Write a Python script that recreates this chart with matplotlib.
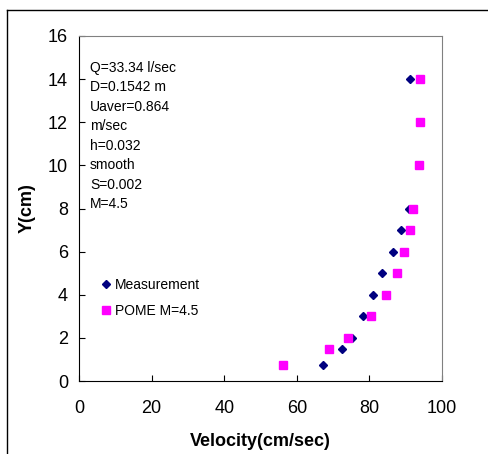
import matplotlib.pyplot as plt
from matplotlib.lines import Line2D

plt.rcParams['font.family'] = ['Liberation Sans', 'DejaVu Sans']

# measured velocity profile
meas_y = [14, 8, 7, 6, 5, 4, 3, 2, 1.5, 0.75]
meas_v = [91.2, 91.0, 88.6, 86.4, 83.6, 81.1, 78.3, 75.1, 72.5, 67.1]

# POME prediction, M=4.5
pome_y = [14, 12, 10, 8, 7, 6, 5, 4, 3, 2, 1.5, 0.75]
pome_v = [93.9, 93.9, 93.6, 92.1, 91.2, 89.6, 87.5, 84.6, 80.4, 74.0, 69.0, 56.1]

info = ['Q=33.34 l/sec', 'D=0.1542 m', 'Uaver=0.864', 'm/sec',
        'h=0.032', 'smooth', 'S=0.002', 'M=4.5']

fig = plt.figure(figsize=(4.88, 4.54), dpi=100)
ax = fig.add_axes([79/488, 1-381/454, (442-79)/488, (381-36)/454])

ax.plot(meas_v, meas_y, 'D', color='#000080', ms=3.8, ls='none', label='Measurement')
ax.plot(pome_v, pome_y, 's', color='#ff00ff', ms=5.5, ls='none', label='POME M=4.5')

ax.set_xlim(0, 100)
ax.set_ylim(0, 16)
ax.set_xticks(range(0, 101, 20))
ax.set_yticks(range(0, 17, 2))
ax.tick_params(direction='in', labelsize=13, length=4, pad=8)
ax.tick_params(axis='x', pad=14)
for s in ['top', 'right']:
    ax.spines[s].set_color('#808080')

ax.set_xlabel('Velocity(cm/sec)', fontsize=13, fontweight='bold', labelpad=11)
ax.set_ylabel('Y(cm)', fontsize=13, fontweight='bold', labelpad=9)

for i, t in enumerate(info):
    ax.text(0.03, 0.908 - i * 0.0565, t, transform=ax.transAxes,
            fontsize=10, va='center')

ax.legend(loc='upper left', bbox_to_anchor=(0.016, 0.335), frameon=False,
          fontsize=10, handletextpad=0.05, handlelength=1.2, labelspacing=0.85)

# outer frame of the chart area
fig.add_artist(Line2D([7/488, 7/488], [0, 1-10/454], color='black', lw=1))
fig.add_artist(Line2D([7/488, 1], [1-10/454, 1-10/454], color='black', lw=1))

fig.savefig('out.png', dpi=100)
